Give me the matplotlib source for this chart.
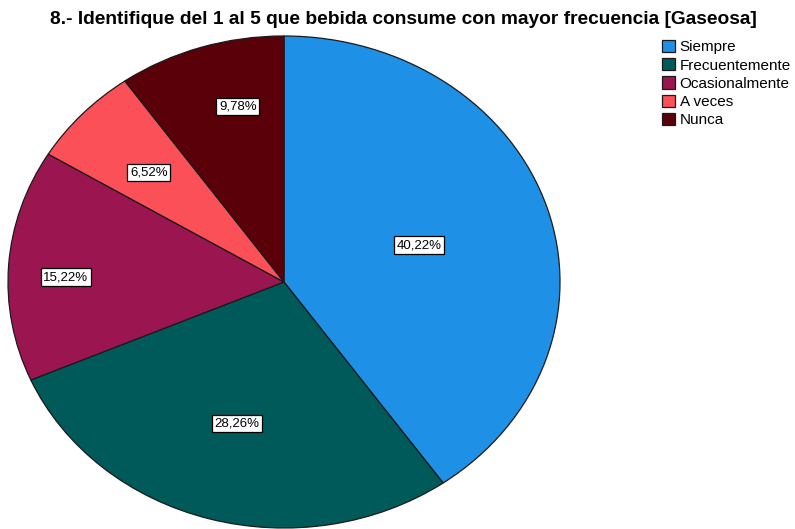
import numpy as np
import matplotlib.pyplot as plt

categorias = ['Siempre', 'Frecuentemente', 'Ocasionalmente', 'A veces', 'Nunca']
porcentajes = [40.22, 28.26, 15.22, 6.52, 9.78]
colores = ['#1e90e6', '#005a59', '#9b1650', '#fb5058', '#590009']

# posicion (x, y) de cada etiqueta en unidades del grafico
pos_etiquetas = [(0.49, 0.15), (-0.17, -0.575), (-0.79, 0.02), (-0.49, 0.445), (-0.167, 0.714)]

plt.rcParams['font.family'] = ['Liberation Sans', 'DejaVu Sans']

fig = plt.figure(figsize=(7.95, 5.29), dpi=100)
ax = fig.add_axes([8 / 795, 1 / 529, 552 / 795, 492 / 529])

wedges, _ = ax.pie(porcentajes, colors=colores, startangle=90, counterclock=False,
                   wedgeprops=dict(edgecolor='#1a1a1a', linewidth=0.9))
ax.set_aspect('auto')
ax.set_xlim(-1.0, 1.0)
ax.set_ylim(-1.0, 1.0)

for p, (x, y) in zip(porcentajes, pos_etiquetas):
    txt = f'{p:.2f}%'.replace('.', ',')
    ax.text(x, y, txt, ha='center', va='center', fontsize=9.5,
            bbox=dict(boxstyle='square,pad=0.2', fc='white', ec='black', lw=0.9))

fig.text(0.5 * (52 + 755) / 795, 1 - 20 / 529,
         '8.- Identifique del 1 al 5 que bebida consume con mayor frecuencia [Gaseosa]',
         ha='center', va='center', fontsize=13.8, fontweight='bold')

leg = fig.legend(wedges, categorias, loc='upper left', bbox_to_anchor=(662 / 795, 1 - 40 / 529),
                 frameon=False, fontsize=11, handlelength=0.85, handleheight=0.85,
                 handletextpad=0.3, labelspacing=0.25, borderpad=0, borderaxespad=0)

fig.savefig('out.png', dpi=100)
